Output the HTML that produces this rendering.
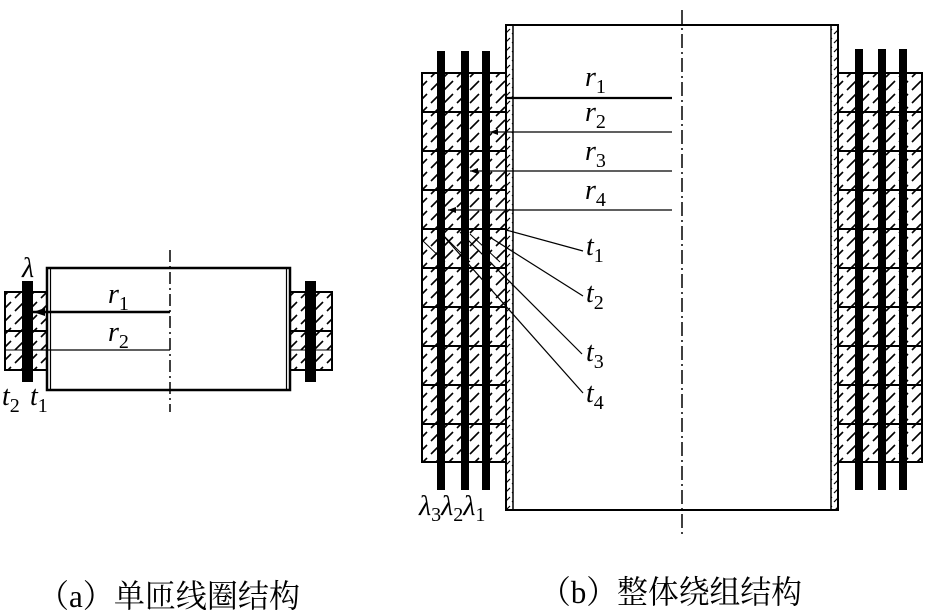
<!DOCTYPE html>
<html><head><meta charset="utf-8"><style>
html,body{margin:0;padding:0;background:#fff;}
svg{display:block;}
text{font-family:"Liberation Serif","Noto Serif CJK SC",serif;}
.it{font-style:italic;font-size:28px;}
.sub{font-size:20px;font-style:normal;}
.cap{font-family:"Liberation Serif","Noto Serif CJK SC",serif;font-size:32px;}
</style></head><body>
<svg width="928" height="616" viewBox="0 0 928 616" xmlns="http://www.w3.org/2000/svg">
<defs>
<pattern id="h" width="13" height="13" patternUnits="userSpaceOnUse">
<line x1="2" y1="12" x2="11" y2="3" stroke="#000" stroke-width="1.6"/>
</pattern>
<pattern id="hw" width="7" height="9" patternUnits="userSpaceOnUse">
<line x1="1" y1="7" x2="6" y2="2" stroke="#000" stroke-width="1.2"/>
</pattern>
</defs>
<g stroke="#000" fill="none">
<!-- (a) -->
<rect x="47" y="268" width="243" height="122" stroke-width="2.5"/>
<line x1="50.5" y1="268" x2="50.5" y2="390" stroke-width="1.2"/>
<line x1="286.5" y1="268" x2="286.5" y2="390" stroke-width="1.2"/>
<line x1="170" y1="250" x2="170" y2="412" stroke-width="1.5" stroke-dasharray="12,4,2,4"/>
<rect x="5" y="292" width="42" height="78" fill="url(#h)" stroke-width="2"/>
<line x1="5" y1="331" x2="47" y2="331" stroke-width="2"/>
<line x1="5" y1="350" x2="47" y2="350" stroke-width="1"/>
<rect x="290" y="292" width="42" height="78" fill="url(#h)" stroke-width="2"/>
<line x1="290" y1="331" x2="332" y2="331" stroke-width="2"/>
<line x1="290" y1="350" x2="332" y2="350" stroke-width="1"/>
<line x1="33" y1="312" x2="170" y2="312" stroke-width="2.5"/>
<line x1="33" y1="350" x2="170" y2="350" stroke-width="1.2"/>
</g>
<rect x="22" y="281" width="11" height="101" fill="#000"/>
<rect x="305" y="281" width="11" height="101" fill="#000"/>
<polygon points="33,312 45,308 45,316" fill="#000"/>
<text class="it" x="22" y="277">λ</text>
<text class="it" x="108" y="303">r<tspan class="sub" dy="7">1</tspan></text>
<text class="it" x="108" y="341">r<tspan class="sub" dy="7">2</tspan></text>
<text class="it" x="2" y="405">t<tspan class="sub" dy="7">2</tspan></text>
<text class="it" x="30" y="405">t<tspan class="sub" dy="7">1</tspan></text>

<!-- (b) -->
<g stroke="#000" fill="none">
<rect x="506" y="25" width="7" height="485" fill="url(#hw)" stroke-width="1.5"/>
<rect x="831" y="25" width="7" height="485" fill="url(#hw)" stroke-width="1.5"/>
<rect x="506" y="25" width="332" height="485" stroke-width="2"/>
<line x1="682" y1="10" x2="682" y2="535" stroke-width="1.5" stroke-dasharray="14,4,2,4"/>
<rect x="422" y="73" width="84" height="389" fill="url(#h)" stroke-width="2"/>
<rect x="838" y="73" width="84" height="389" fill="url(#h)" stroke-width="2"/>
<path d="M422 112H506M422 151H506M422 190H506M422 229H506M422 268H506M422 307H506M422 346H506M422 385H506M422 424H506" stroke-width="2"/>
<path d="M838 112H922M838 151H922M838 190H922M838 229H922M838 268H922M838 307H922M838 346H922M838 385H922M838 424H922" stroke-width="2"/>
<path d="M422 240L445 262M444 236L470 262M470 234L500 262" stroke-width="1"/>
<line x1="506" y1="98" x2="672" y2="98" stroke-width="2.2"/>
<line x1="490" y1="132" x2="672" y2="132" stroke-width="1.2"/>
<line x1="470" y1="171" x2="672" y2="171" stroke-width="1.2"/>
<line x1="448" y1="210" x2="672" y2="210" stroke-width="1.2"/>
<line x1="506" y1="230" x2="583" y2="251" stroke-width="1.2"/>
<line x1="488" y1="236" x2="583" y2="296" stroke-width="1.2"/>
<line x1="460" y1="232" x2="582" y2="354" stroke-width="1.2"/>
<line x1="440" y1="232" x2="583" y2="393" stroke-width="1.2"/>
</g>
<g fill="#000">
<rect x="437" y="51" width="8" height="439"/>
<rect x="461" y="51" width="8" height="439"/>
<rect x="482" y="51" width="8" height="439"/>
<rect x="855" y="49" width="8" height="441"/>
<rect x="878" y="49" width="8" height="441"/>
<rect x="899" y="49" width="8" height="441"/>
<polygon points="490,132 498,129 498,135"/>
<polygon points="470,171 478,168 478,174"/>
<polygon points="448,210 456,207 456,213"/>
</g>
<text class="it" x="585" y="86">r<tspan class="sub" dy="7">1</tspan></text>
<text class="it" x="585" y="121">r<tspan class="sub" dy="7">2</tspan></text>
<text class="it" x="585" y="160">r<tspan class="sub" dy="7">3</tspan></text>
<text class="it" x="585" y="199">r<tspan class="sub" dy="7">4</tspan></text>
<text class="it" x="586" y="255">t<tspan class="sub" dy="7">1</tspan></text>
<text class="it" x="586" y="302">t<tspan class="sub" dy="7">2</tspan></text>
<text class="it" x="586" y="361">t<tspan class="sub" dy="7">3</tspan></text>
<text class="it" x="586" y="402">t<tspan class="sub" dy="7">4</tspan></text>
<text class="it" x="419" y="515">λ<tspan class="sub" dy="6">3</tspan><tspan dy="-6">λ</tspan><tspan class="sub" dy="6">2</tspan><tspan dy="-6">λ</tspan><tspan class="sub" dy="6">1</tspan></text>

<text class="cap" x="38" y="607" textLength="262" lengthAdjust="spacingAndGlyphs">（a）单匝线圈结构</text>
<text class="cap" x="540" y="603" textLength="262" lengthAdjust="spacingAndGlyphs">（b）整体绕组结构</text>
</svg>
</body></html>
